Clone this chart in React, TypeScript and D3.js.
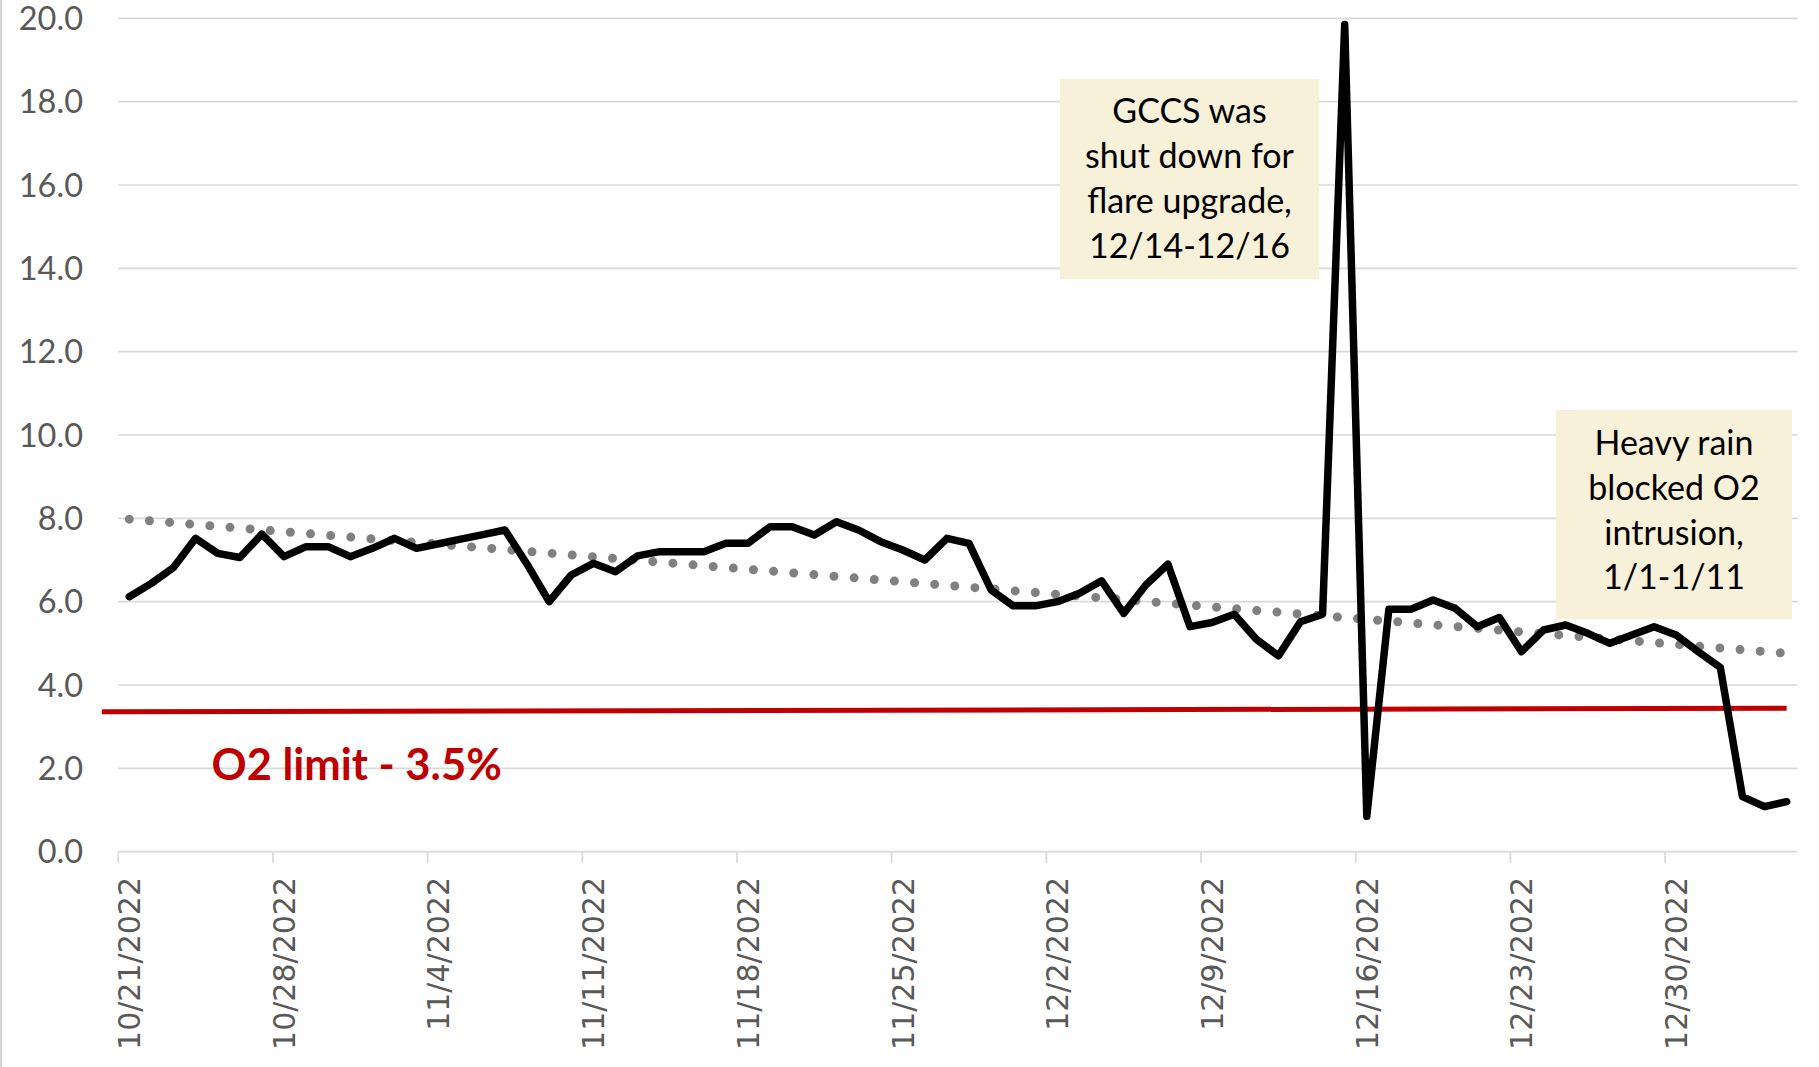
import React from "react";
import * as d3 from "d3";

// ---------- data ----------
const startDate = "2022-10-21";
const o2Values = [
  6.12, 6.44, 6.82, 7.52, 7.16, 7.06, 7.62, 7.08, 7.32, 7.32, 7.08, 7.28, 7.52, 7.28,
  7.39, 7.5, 7.61, 7.72, 6.9, 6.0, 6.64, 6.92, 6.72, 7.1, 7.2, 7.2, 7.2, 7.4, 7.4, 7.8,
  7.8, 7.6, 7.92, 7.72, 7.44, 7.24, 7.0, 7.52, 7.4, 6.28, 5.9, 5.9, 6.0, 6.2, 6.5, 5.72,
  6.4, 6.9, 5.4, 5.5, 5.7, 5.1, 4.7, 5.52, 5.7, 19.85, 0.85, 5.82, 5.82, 6.04, 5.84, 5.4,
  5.62, 4.8, 5.32, 5.44, 5.24, 5.0, 5.2, 5.4, 5.2, 4.8, 4.42, 1.32, 1.08, 1.2,
];
const trendValues = [7.98, 4.76]; // linear trend at first and last day
const limitValues = [3.36, 3.44]; // drawn O2 limit line, left and right ends
const limitLabel = "O2 limit - 3.5%";
const yTicks = [0, 2, 4, 6, 8, 10, 12, 14, 16, 18, 20];
const xTickLabels = [
  "10/21/2022", "10/28/2022", "11/4/2022", "11/11/2022", "11/18/2022", "11/25/2022",
  "12/2/2022", "12/9/2022", "12/16/2022", "12/23/2022", "12/30/2022",
];
const note1Lines = ["GCCS was", "shut down for", "flare upgrade,", "12/14-12/16"];
const note2Lines = ["Heavy rain", "blocked O2", "intrusion,", "1/1-1/11"];

// ---------- layout ----------
const W = 1819;
const H = 1067;
const plotLeft = 118.25;
const plotRight = 1797.7;
const plotTop = 18.3;
const plotBottom = 851.7;
const DAY = 24 * 3600 * 1000;

export default function App() {
  const t0 = new Date(startDate + "T00:00:00Z");
  const n = o2Values.length;
  const t1 = new Date(t0.getTime() + n * DAY);
  const x = d3.scaleUtc().domain([t0, t1]).range([plotLeft, plotRight]);
  const y = d3.scaleLinear().domain([0, 20]).range([plotBottom, plotTop]);
  const dayCenter = (i: number) => new Date(t0.getTime() + (i + 0.5) * DAY);

  const pts = o2Values.map((v, i) => ({ d: dayCenter(i), v }));
  const line = d3
    .line<{ d: Date; v: number }>()
    .x((p) => x(p.d))
    .y((p) => y(p.v));

  const trendPts = [
    { d: dayCenter(0), v: trendValues[0] },
    { d: dayCenter(n - 1), v: trendValues[1] },
  ];
  const limitPts = [
    { d: dayCenter(-1.24), v: limitValues[0] },
    { d: dayCenter(n - 1), v: limitValues[1] },
  ];

  const parse = d3.utcParse("%m/%d/%Y");
  const tickDates = xTickLabels.map((s) => parse(s) as Date);
  const fmtY = d3.format(".1f");

  const font = "Lato, 'Open Sans', sans-serif";
  const noteFont = 34;
  const noteLH = 44.8;

  return (
    <svg
      width={W}
      height={H}
      viewBox={`0 0 ${W} ${H}`}
      style={{ position: "fixed", left: 0, top: 0, background: "#fff" }}
    >
      <rect x={0} y={0} width={W} height={H} fill="#fff" />
      <line x1={1} x2={1} y1={0} y2={H} stroke="#C8C8C8" strokeWidth={1.5} />
      {/* gridlines */}
      {yTicks.map((t) => (
        <line
          key={"g" + t}
          x1={plotLeft}
          x2={plotRight}
          y1={y(t)}
          y2={y(t)}
          stroke="#D9D9D9"
          strokeWidth={1.7}
        />
      ))}
      {/* y labels */}
      {yTicks.map((t) => (
        <text
          key={"yl" + t}
          x={83}
          y={y(t)}
          dy="0.36em"
          textAnchor="end"
          fontFamily={font}
          fontSize={32.5}
          fill="#595959"
        >
          {fmtY(t)}
        </text>
      ))}
      {/* x ticks */}
      {tickDates.map((d, i) => (
        <line
          key={"xt" + i}
          x1={x(d)}
          x2={x(d)}
          y1={plotBottom}
          y2={plotBottom + 11}
          stroke="#D9D9D9"
          strokeWidth={1.7}
        />
      ))}
      {tickDates.map((d, i) => {
        const cx = x(new Date(d.getTime() + DAY / 2));
        return (
          <text
            key={"xl" + i}
            transform={`translate(${cx},${877}) rotate(-90)`}
            dy="0.36em"
            textAnchor="end"
            fontFamily="'DejaVu Sans', Verdana, sans-serif"
            fontSize={30}
            fill="#595959"
          >
            {xTickLabels[i]}
          </text>
        );
      })}
      {/* limit line */}
      <path d={line(limitPts) || ""} stroke="#C00000" strokeWidth={5} fill="none" />
      <text
        x={211.5}
        y={780}
        fontFamily={font}
        fontWeight={700}
        fontSize={43.5}
        fill="#C00000"
      >
        {limitLabel}
      </text>
      {/* trend line */}
      <path
        d={line(trendPts) || ""}
        stroke="#808080"
        strokeWidth={9}
        strokeDasharray="0 20.2"
        strokeLinecap="round"
        fill="none"
      />
      {/* data line */}
      <path
        d={line(pts) || ""}
        stroke="#000"
        strokeWidth={7.5}
        strokeLinejoin="round"
        strokeLinecap="round"
        fill="none"
      />
      {/* annotations */}
      <rect x={1060} y={79} width={259} height={200.3} fill="#F8F1D9" />
      {note1Lines.map((s, i) => (
        <text
          key={"n1" + i}
          x={1189.5}
          y={123.3 + i * noteLH}
          textAnchor="middle"
          fontFamily={font}
          fontSize={noteFont}
          fill="#000"
        >
          {s}
        </text>
      ))}
      <rect x={1556} y={410} width={236} height={209.3} fill="#F8F1D9" />
      {note2Lines.map((s, i) => (
        <text
          key={"n2" + i}
          x={1674}
          y={455 + i * noteLH}
          textAnchor="middle"
          fontFamily={font}
          fontSize={noteFont}
          fill="#000"
        >
          {s}
        </text>
      ))}
    </svg>
  );
}
